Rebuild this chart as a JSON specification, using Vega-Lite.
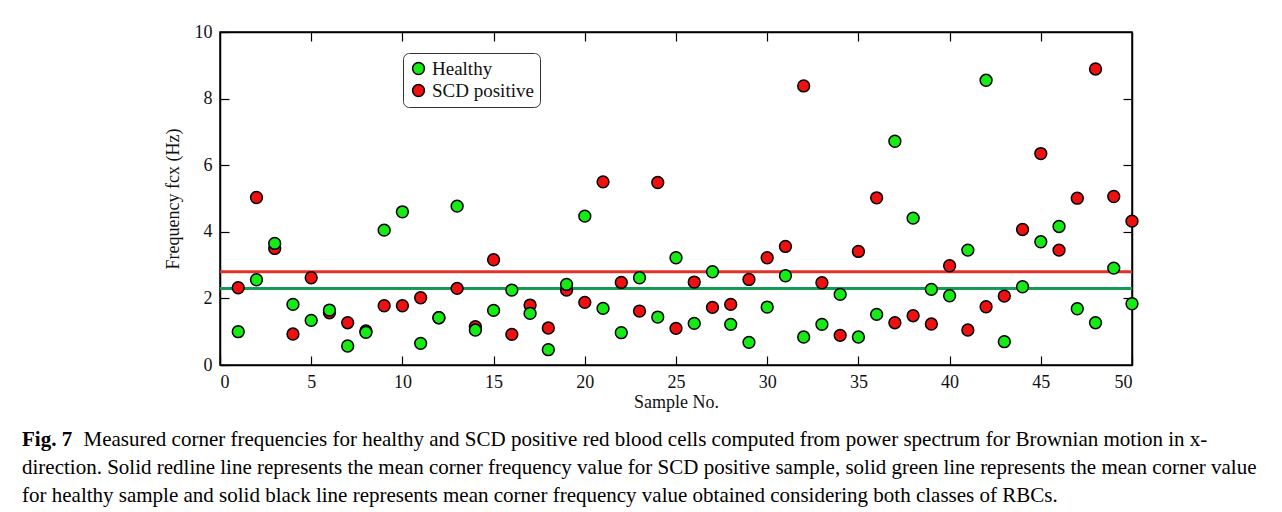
{
  "$schema": "https://vega.github.io/schema/vega-lite/v6.json",
  "autosize": {"type": "none"},
  "width": 912,
  "height": 333,
  "padding": {"left": 220, "top": 32, "right": 150, "bottom": 147},
  "background": "white",
  "config": {
    "font": "Liberation Serif, Times New Roman, DejaVu Serif, serif",
    "view": {"stroke": "black", "strokeWidth": 1.5},
    "axis": {
      "labelFont": "Liberation Serif, Times New Roman, DejaVu Serif, serif",
      "titleFont": "Liberation Serif, Times New Roman, DejaVu Serif, serif",
      "labelFontSize": 18,
      "titleFontSize": 18,
      "labelColor": "#111",
      "titleColor": "#111",
      "titleFontWeight": "normal",
      "domainColor": "black",
      "domainWidth": 1.5,
      "tickColor": "black",
      "tickWidth": 1.2,
      "tickSize": -9,
      "grid": false,
      "labelPadding": 17
    }
  },
  "title": {
    "text": "Fig. 7",
    "subtitle": [
      "\u2800\u2800\u2800\u2800Measured corner frequencies for healthy and SCD positive red blood cells computed from power spectrum for Brownian motion in x-",
      "direction. Solid redline line represents the mean corner frequency value for SCD positive sample, solid green line represents the mean corner value",
      "for healthy sample and solid black line represents mean corner frequency value obtained considering both classes of RBCs."
    ],
    "orient": "bottom",
    "anchor": "start",
    "frame": "group",
    "dx": -198,
    "offset": 18,
    "font": "Liberation Serif, Times New Roman, DejaVu Serif, serif",
    "fontSize": 21,
    "fontWeight": "bold",
    "color": "black",
    "lineHeight": 28,
    "subtitleFont": "Liberation Serif, Times New Roman, DejaVu Serif, serif",
    "subtitleFontSize": 21,
    "subtitleColor": "black",
    "subtitleLineHeight": 28,
    "subtitlePadding": -21
  },
  "datasets": {
    "points": [
      {"sample": 1, "group": "SCD positive", "freq": 2.32},
      {"sample": 2, "group": "SCD positive", "freq": 5.03},
      {"sample": 3, "group": "SCD positive", "freq": 3.50},
      {"sample": 4, "group": "SCD positive", "freq": 0.93},
      {"sample": 5, "group": "SCD positive", "freq": 2.62},
      {"sample": 6, "group": "SCD positive", "freq": 1.57},
      {"sample": 7, "group": "SCD positive", "freq": 1.27},
      {"sample": 8, "group": "SCD positive", "freq": 1.02},
      {"sample": 9, "group": "SCD positive", "freq": 1.78},
      {"sample": 10, "group": "SCD positive", "freq": 1.78},
      {"sample": 11, "group": "SCD positive", "freq": 2.02},
      {"sample": 12, "group": "SCD positive", "freq": 1.42},
      {"sample": 13, "group": "SCD positive", "freq": 2.30},
      {"sample": 14, "group": "SCD positive", "freq": 1.15},
      {"sample": 15, "group": "SCD positive", "freq": 3.16},
      {"sample": 16, "group": "SCD positive", "freq": 0.92},
      {"sample": 17, "group": "SCD positive", "freq": 1.80},
      {"sample": 18, "group": "SCD positive", "freq": 1.11},
      {"sample": 19, "group": "SCD positive", "freq": 2.25},
      {"sample": 20, "group": "SCD positive", "freq": 1.88},
      {"sample": 21, "group": "SCD positive", "freq": 5.50},
      {"sample": 22, "group": "SCD positive", "freq": 2.48},
      {"sample": 23, "group": "SCD positive", "freq": 1.62},
      {"sample": 24, "group": "SCD positive", "freq": 5.48},
      {"sample": 25, "group": "SCD positive", "freq": 1.10},
      {"sample": 26, "group": "SCD positive", "freq": 2.49},
      {"sample": 27, "group": "SCD positive", "freq": 1.73},
      {"sample": 28, "group": "SCD positive", "freq": 1.82},
      {"sample": 29, "group": "SCD positive", "freq": 2.57},
      {"sample": 30, "group": "SCD positive", "freq": 3.22},
      {"sample": 31, "group": "SCD positive", "freq": 3.56},
      {"sample": 32, "group": "SCD positive", "freq": 8.38},
      {"sample": 33, "group": "SCD positive", "freq": 2.47},
      {"sample": 34, "group": "SCD positive", "freq": 0.89},
      {"sample": 35, "group": "SCD positive", "freq": 3.41},
      {"sample": 36, "group": "SCD positive", "freq": 5.02},
      {"sample": 37, "group": "SCD positive", "freq": 1.27},
      {"sample": 38, "group": "SCD positive", "freq": 1.48},
      {"sample": 39, "group": "SCD positive", "freq": 1.23},
      {"sample": 40, "group": "SCD positive", "freq": 2.98},
      {"sample": 41, "group": "SCD positive", "freq": 1.05},
      {"sample": 42, "group": "SCD positive", "freq": 1.75},
      {"sample": 43, "group": "SCD positive", "freq": 2.07},
      {"sample": 44, "group": "SCD positive", "freq": 4.07},
      {"sample": 45, "group": "SCD positive", "freq": 6.35},
      {"sample": 46, "group": "SCD positive", "freq": 3.45},
      {"sample": 47, "group": "SCD positive", "freq": 5.01},
      {"sample": 48, "group": "SCD positive", "freq": 8.89},
      {"sample": 49, "group": "SCD positive", "freq": 5.06},
      {"sample": 50, "group": "SCD positive", "freq": 4.32},
      {"sample": 1, "group": "Healthy", "freq": 1.00},
      {"sample": 2, "group": "Healthy", "freq": 2.56},
      {"sample": 3, "group": "Healthy", "freq": 3.65},
      {"sample": 4, "group": "Healthy", "freq": 1.82},
      {"sample": 5, "group": "Healthy", "freq": 1.34},
      {"sample": 6, "group": "Healthy", "freq": 1.65},
      {"sample": 7, "group": "Healthy", "freq": 0.57},
      {"sample": 8, "group": "Healthy", "freq": 0.98},
      {"sample": 9, "group": "Healthy", "freq": 4.05},
      {"sample": 10, "group": "Healthy", "freq": 4.60},
      {"sample": 11, "group": "Healthy", "freq": 0.65},
      {"sample": 12, "group": "Healthy", "freq": 1.42},
      {"sample": 13, "group": "Healthy", "freq": 4.77},
      {"sample": 14, "group": "Healthy", "freq": 1.05},
      {"sample": 15, "group": "Healthy", "freq": 1.64},
      {"sample": 16, "group": "Healthy", "freq": 2.25},
      {"sample": 17, "group": "Healthy", "freq": 1.55},
      {"sample": 18, "group": "Healthy", "freq": 0.46},
      {"sample": 19, "group": "Healthy", "freq": 2.42},
      {"sample": 20, "group": "Healthy", "freq": 4.47},
      {"sample": 21, "group": "Healthy", "freq": 1.70},
      {"sample": 22, "group": "Healthy", "freq": 0.97},
      {"sample": 23, "group": "Healthy", "freq": 2.62},
      {"sample": 24, "group": "Healthy", "freq": 1.44},
      {"sample": 25, "group": "Healthy", "freq": 3.22},
      {"sample": 26, "group": "Healthy", "freq": 1.25},
      {"sample": 27, "group": "Healthy", "freq": 2.80},
      {"sample": 28, "group": "Healthy", "freq": 1.22},
      {"sample": 29, "group": "Healthy", "freq": 0.68},
      {"sample": 30, "group": "Healthy", "freq": 1.74},
      {"sample": 31, "group": "Healthy", "freq": 2.68},
      {"sample": 32, "group": "Healthy", "freq": 0.84},
      {"sample": 33, "group": "Healthy", "freq": 1.22},
      {"sample": 34, "group": "Healthy", "freq": 2.12},
      {"sample": 35, "group": "Healthy", "freq": 0.84},
      {"sample": 36, "group": "Healthy", "freq": 1.52},
      {"sample": 37, "group": "Healthy", "freq": 6.72},
      {"sample": 38, "group": "Healthy", "freq": 4.41},
      {"sample": 39, "group": "Healthy", "freq": 2.27},
      {"sample": 40, "group": "Healthy", "freq": 2.08},
      {"sample": 41, "group": "Healthy", "freq": 3.45},
      {"sample": 42, "group": "Healthy", "freq": 8.55},
      {"sample": 43, "group": "Healthy", "freq": 0.70},
      {"sample": 44, "group": "Healthy", "freq": 2.35},
      {"sample": 45, "group": "Healthy", "freq": 3.70},
      {"sample": 46, "group": "Healthy", "freq": 4.16},
      {"sample": 47, "group": "Healthy", "freq": 1.69},
      {"sample": 48, "group": "Healthy", "freq": 1.27},
      {"sample": 49, "group": "Healthy", "freq": 2.91},
      {"sample": 50, "group": "Healthy", "freq": 1.84}
    ],
    "means": [
      {"group": "SCD positive", "mean": 2.80},
      {"group": "Healthy", "mean": 2.30}
    ]
  },
  "layer": [
    {
      "data": {"name": "means"},
      "transform": [{"filter": "datum.group === 'SCD positive'"}],
      "mark": {"type": "rule", "color": "#e5302a", "strokeWidth": 3},
      "encoding": {
        "y": {"field": "mean", "type": "quantitative", "scale": {"domain": [0, 10], "nice": false}, "axis": null}
      }
    },
    {
      "data": {"name": "means"},
      "transform": [{"filter": "datum.group === 'Healthy'"}],
      "mark": {"type": "rule", "color": "#169b55", "strokeWidth": 3},
      "encoding": {
        "y": {"field": "mean", "type": "quantitative", "axis": null}
      }
    },
    {
      "data": {"name": "points"},
      "transform": [{"filter": "datum.group === 'SCD positive'"}],
      "mark": {"type": "circle", "size": 140, "stroke": "black", "strokeWidth": 1.5, "opacity": 1},
      "encoding": {
        "x": {"field": "sample", "type": "quantitative", "scale": {"domain": [0, 50], "nice": false},
              "axis": {"orient": "top", "labels": false, "title": null, "values": [5, 10, 15, 20, 25, 30, 35, 40, 45]}},
        "y": {"field": "freq", "type": "quantitative",
              "axis": {"orient": "right", "labels": false, "title": null, "values": [2, 4, 6, 8]}},
        "fill": {"field": "group", "type": "nominal",
                 "scale": {"domain": ["Healthy", "SCD positive"], "range": ["#14ec14", "#f01010"]},
                 "legend": {"orient": "none", "legendX": 183, "legendY": 21, "title": null,
                            "strokeColor": "#333", "cornerRadius": 6, "padding": 6, "fillColor": "white",
                            "labelFont": "Liberation Serif, Times New Roman, DejaVu Serif, serif", "labelFontSize": 19, "labelColor": "#111",
                            "symbolType": "circle", "symbolSize": 140, "symbolStrokeColor": "black",
                            "symbolStrokeWidth": 1.5, "rowPadding": 2, "labelOffset": 4}}
      }
    },
    {
      "data": {"name": "points"},
      "transform": [{"filter": "datum.group === 'Healthy'"}],
      "mark": {"type": "circle", "size": 140, "stroke": "black", "strokeWidth": 1.5, "opacity": 1},
      "encoding": {
        "x": {"field": "sample", "type": "quantitative",
              "axis": {"orient": "bottom", "title": "Sample No.", "values": [0, 5, 10, 15, 20, 25, 30, 35, 40, 45, 50], "titlePadding": 2}},
        "y": {"field": "freq", "type": "quantitative",
              "axis": {"orient": "left", "title": "Frequency fcx (Hz)", "values": [0, 2, 4, 6, 8, 10], "titlePadding": 12}},
        "fill": {"field": "group", "type": "nominal"}
      }
    }
  ],
  "resolve": {"axis": {"x": "independent", "y": "independent"}}
}
